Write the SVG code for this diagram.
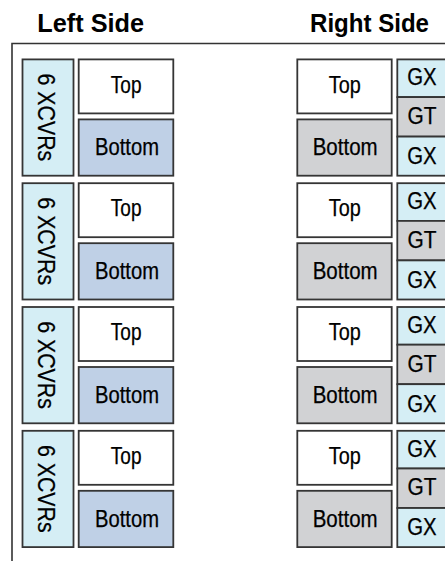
<svg xmlns="http://www.w3.org/2000/svg" width="445" height="561" viewBox="0 0 445 561">
  <style>
    .title { font-family: "Liberation Sans", Arial, sans-serif; font-weight: bold; font-size: 26px; fill: #000; text-anchor: middle; }
    .lbl { font-family: "Liberation Sans", Arial, sans-serif; font-size: 23px; fill: #000; stroke: #000; stroke-width: 0.25; text-anchor: middle; }
    .box { stroke: #353535; stroke-width: 1.8; }
    .white { fill: #ffffff; }
    .xcvr { fill: #d5eef5; }
    .blue { fill: #bfd0e6; }
    .gray { fill: #d1d2d4; }
    .frame { fill: none; stroke: #333; stroke-width: 1.6; }
  </style>
  <defs>
    <!-- one left-side bank: transceiver strip plus Top / Bottom halves -->
    <g id="leftBank">
      <rect class="box xcvr" x="22.5" y="0" width="51" height="116.3"/>
      <text class="lbl" transform="translate(37.7 58) rotate(90)" textLength="87.7" lengthAdjust="spacingAndGlyphs">6 XCVRs</text>
      <rect class="box white" x="78.7" y="0" width="94.6" height="54"/>
      <text class="lbl" x="126.2" y="33.3" textLength="30.7" lengthAdjust="spacingAndGlyphs">Top</text>
      <rect class="box blue" x="78.7" y="60" width="94.6" height="56.3"/>
      <text class="lbl" x="127" y="95.8" textLength="64" lengthAdjust="spacingAndGlyphs">Bottom</text>
    </g>
    <!-- one right-side bank: Top / Bottom halves plus GX / GT / GX column -->
    <g id="rightBank">
      <rect class="box white" x="297.3" y="0" width="94.4" height="54"/>
      <text class="lbl" x="344.8" y="33.3" textLength="32" lengthAdjust="spacingAndGlyphs">Top</text>
      <rect class="box gray" x="297.3" y="60" width="94.4" height="56.3"/>
      <text class="lbl" x="345.2" y="95.8" textLength="65" lengthAdjust="spacingAndGlyphs">Bottom</text>
      <rect class="box xcvr" x="397.3" y="0" width="51" height="37.7"/>
      <text class="lbl" x="422" y="26" textLength="29.4" lengthAdjust="spacingAndGlyphs">GX</text>
      <rect class="box gray" x="397.3" y="37.7" width="51" height="39.5"/>
      <text class="lbl" x="422" y="64.5" textLength="29" lengthAdjust="spacingAndGlyphs">GT</text>
      <rect class="box xcvr" x="397.3" y="77.2" width="51" height="39.1"/>
      <text class="lbl" x="422" y="104.7" textLength="29.4" lengthAdjust="spacingAndGlyphs">GX</text>
    </g>
  </defs>

  <text class="title" x="90.7" y="32.3" textLength="106.7" lengthAdjust="spacingAndGlyphs">Left Side</text>
  <text class="title" x="369.5" y="32.3" textLength="119" lengthAdjust="spacingAndGlyphs">Right Side</text>

  <!-- device outline (runs off the right and bottom edges) -->
  <path class="frame" d="M12 561 V43.5 H446"/>

  <g id="left-bank-1"><use href="#leftBank" y="59.4"/></g>
  <g id="left-bank-2"><use href="#leftBank" y="183.2"/></g>
  <g id="left-bank-3"><use href="#leftBank" y="307"/></g>
  <g id="left-bank-4"><use href="#leftBank" y="430.8"/></g>

  <g id="right-bank-1"><use href="#rightBank" y="59.4"/></g>
  <g id="right-bank-2"><use href="#rightBank" y="183.2"/></g>
  <g id="right-bank-3"><use href="#rightBank" y="307"/></g>
  <g id="right-bank-4"><use href="#rightBank" y="430.8"/></g>

  <g id="connectors"/>
</svg>
